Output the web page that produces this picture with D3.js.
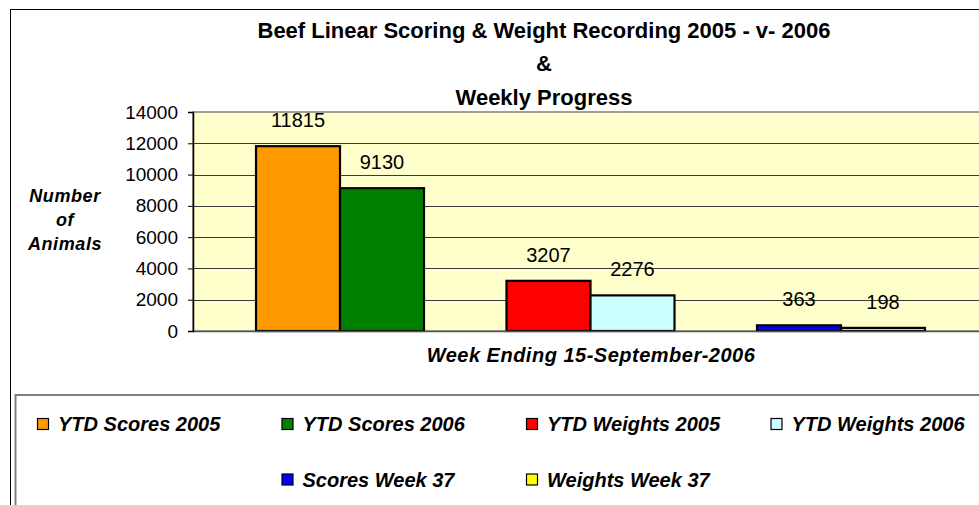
<!DOCTYPE html>
<html>
<head>
<meta charset="utf-8">
<script src="https://cdn.jsdelivr.net/npm/d3@7"></script>
<style>
  html, body { margin: 0; padding: 0; background: #fff; }
  svg { display: block; font-family: "Liberation Sans", Arial, sans-serif; }
</style>
</head>
<body>
<svg id="chart" width="979" height="505"></svg>
<script>
// ---- data ----
const titleLines = ["Beef Linear Scoring & Weight Recording 2005 - v- 2006", "&", "Weekly Progress"];
const seriesNames = ["YTD Scores 2005", "YTD Scores 2006", "YTD Weights 2005", "YTD Weights 2006", "Scores Week 37", "Weights Week 37"];
const seriesValues = [11815, 9130, 3207, 2276, 363, 198];
const seriesColors = ["#FF9900", "#008000", "#FF0000", "#CCFFFF", "#0000FF", "#FFFF00"];
const groupNames = ["YTD Scores", "YTD Weights", "Week 37"];
const seriesGroup = [0, 0, 1, 1, 2, 2];
const seriesSlot = [0, 1, 0, 1, 0, 1];
const yTicks = [0, 2000, 4000, 6000, 8000, 10000, 12000, 14000];
const yTitleLines = ["Number", "of", "Animals"];
const xTitle = "Week Ending 15-September-2006";
const legendRow = [0, 0, 0, 0, 1, 1];
const legendCol = [0, 1, 2, 3, 1, 2];

// ---- layout ----
const svg = d3.select("#chart");
const plot = { left: 193, right: 1000, top: 112, bottom: 331 };

const y = d3.scaleLinear().domain([0, 14000]).range([plot.bottom, plot.top]);
const xGroup = d3.scaleBand().domain(groupNames).range([214.75, 966.25])
  .paddingInner(0.3293).paddingOuter(0.1647);
const xSlot = d3.scaleBand().domain([0, 1]).range([0, xGroup.bandwidth()]);

// outer chart border
svg.append("rect").attr("x", 10.5).attr("y", 9.5).attr("width", 1000).attr("height", 600)
  .attr("fill", "#fff").attr("stroke", "#000").attr("stroke-width", 1);

// plot background
svg.append("rect").attr("x", plot.left).attr("y", plot.top)
  .attr("width", plot.right - plot.left).attr("height", plot.bottom - plot.top)
  .attr("fill", "#FFFFCC").attr("stroke", "#808080").attr("stroke-width", 1.5);

// gridlines
svg.append("g").selectAll("line").data(yTicks.filter(t => t > 0 && t < 14000)).join("line")
  .attr("x1", plot.left).attr("x2", plot.right)
  .attr("y1", d => Math.round(y(d)) + 0.5).attr("y2", d => Math.round(y(d)) + 0.5)
  .attr("stroke", "#3a3a3a").attr("stroke-width", 1);

// bars
svg.append("g").selectAll("rect").data(seriesValues).join("rect")
  .attr("x", (d, i) => xGroup(groupNames[seriesGroup[i]]) + xSlot(seriesSlot[i]))
  .attr("y", d => y(d))
  .attr("width", xSlot.bandwidth())
  .attr("height", d => y(0) - y(d))
  .attr("fill", (d, i) => seriesColors[i])
  .attr("stroke", "#000").attr("stroke-width", 2.2);

// x axis line
svg.append("line").attr("x1", plot.left).attr("x2", plot.right)
  .attr("y1", plot.bottom + 0.5).attr("y2", plot.bottom + 0.5)
  .attr("stroke", "#555").attr("stroke-width", 1.5);

// y axis
const yAxis = d3.axisLeft(y).tickValues(yTicks).tickSize(5).tickPadding(10).tickFormat(d3.format("d"));
const yg = svg.append("g").attr("transform", `translate(${plot.left},0)`).call(yAxis);
yg.select(".domain").attr("stroke", "#000").attr("stroke-width", 1.5);
yg.selectAll(".tick line").attr("stroke", "#000");
yg.selectAll(".tick text").attr("font-size", 19).attr("fill", "#000")
  .attr("font-family", "'Liberation Sans', Arial, sans-serif");

// data labels
svg.append("g").selectAll("text").data(seriesValues).join("text")
  .attr("x", (d, i) => xGroup(groupNames[seriesGroup[i]]) + xSlot(seriesSlot[i]) + xSlot.bandwidth() / 2)
  .attr("y", d => y(d) - 26)
  .attr("dy", "0.35em")
  .attr("text-anchor", "middle").attr("font-size", 20).attr("fill", "#000")
  .text(d => d);

// title
svg.append("g").selectAll("text").data(titleLines).join("text")
  .attr("x", 544).attr("y", (d, i) => 30 + i * 33.5).attr("dy", "0.35em")
  .attr("text-anchor", "middle").attr("font-size", 22).attr("font-weight", "bold")
  .text(d => d);

// y title
svg.append("g").selectAll("text").data(yTitleLines).join("text")
  .attr("x", 65).attr("y", (d, i) => 196 + i * 24).attr("dy", "0.35em")
  .attr("text-anchor", "middle").attr("font-size", 18).attr("font-weight", "bold")
  .attr("font-style", "italic").attr("letter-spacing", 0.6)
  .text(d => d);

// x title
svg.append("text").attr("x", 591).attr("y", 355).attr("dy", "0.35em")
  .attr("text-anchor", "middle").attr("font-size", 20).attr("font-weight", "bold")
  .attr("font-style", "italic").attr("letter-spacing", 0.5)
  .text(xTitle);

// legend box
svg.append("rect").attr("x", 15.5).attr("y", 395).attr("width", 1000).attr("height", 200)
  .attr("fill", "#fff").attr("stroke", "#808080").attr("stroke-width", 2);

const legend = svg.append("g").selectAll("g").data(seriesNames).join("g")
  .attr("transform", (d, i) => `translate(${37 + legendCol[i] * 244.5},${424 + legendRow[i] * 55.5})`);
legend.append("rect").attr("x", 0.5).attr("y", -5.5).attr("width", 11).attr("height", 11)
  .attr("fill", (d, i) => seriesColors[i]).attr("stroke", "#000").attr("stroke-width", 1.2);
legend.append("text").attr("x", 21).attr("y", 0).attr("dy", "0.35em")
  .attr("font-size", 20).attr("font-weight", "bold").attr("font-style", "italic")
  .text(d => d);
</script>
</body>
</html>
